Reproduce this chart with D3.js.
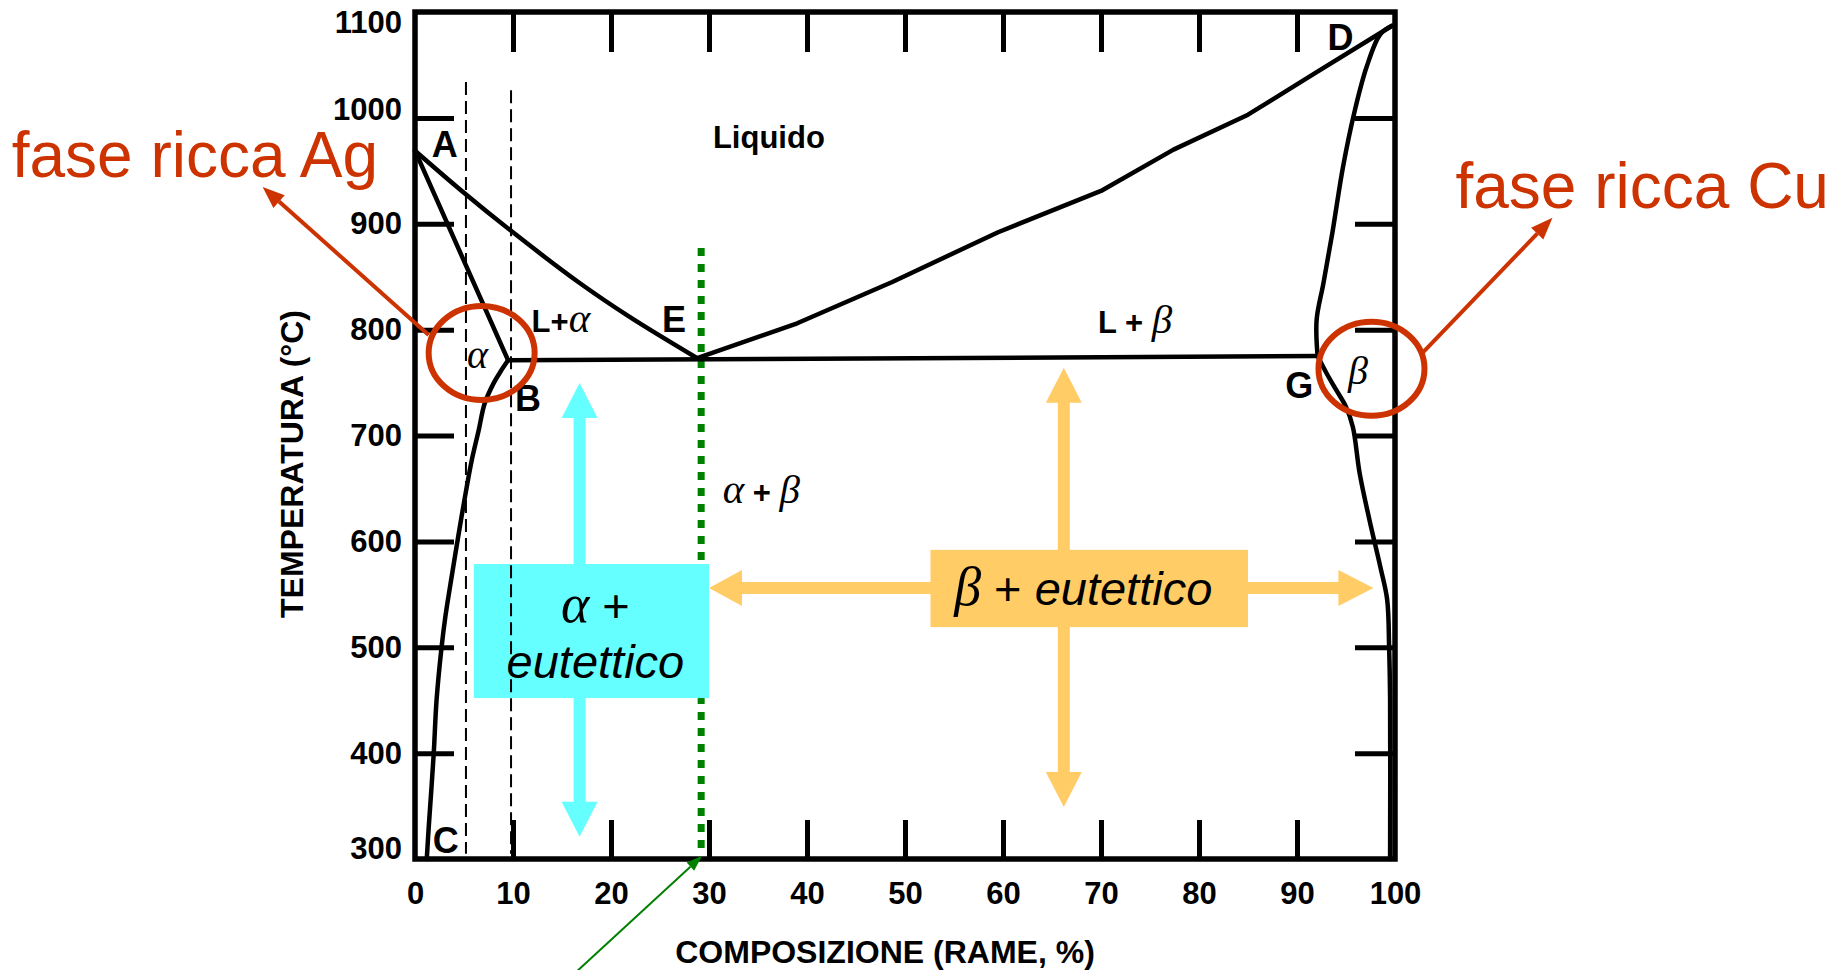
<!DOCTYPE html>
<html>
<head>
<meta charset="utf-8">
<script src="https://cdn.jsdelivr.net/npm/d3@7"></script>
<style>
  html, body { margin: 0; padding: 0; background: #fff; }
  svg { display: block; }
</style>
</head>
<body>
<svg id="chart" width="1841" height="970"></svg>
<script>
// ---- Ag–Cu phase diagram: composition (% Cu) vs temperature (°C) ----
const compTicks = [0, 10, 20, 30, 40, 50, 60, 70, 80, 90, 100];
const tempTicks = [300, 400, 500, 600, 700, 800, 900, 1000, 1100];

// phase boundaries as [composition, temperature]
const liquidusAg = [[0, 969], [4.9, 930], [9.7, 894], [16.8, 844], [21.9, 812], [28.8, 773]];
const solidusAg  = [[0, 969], [9.5, 771]];
const solvusAg   = [[9.5, 771], [8.7, 760], [8.0, 749], [7.1, 730], [6.5, 705], [5.8, 677], [5.1, 642],
                    [4.4, 604], [3.8, 570], [3.1, 529], [2.7, 499], [2.2, 450], [1.9, 398], [1.4, 330], [1.2, 300]];
const eutectic   = [[9.5, 771], [92.1, 775]];
const liquidusCu = [[28.8, 773], [39, 806], [48.7, 845], [59.5, 892], [70, 931], [77.4, 970], [85, 1003],
                    [91.8, 1042], [99.7, 1087]];
const solidusCu  = [[99.7, 1087], [98.5, 1079], [97.1, 1048], [95.9, 1007], [94.7, 954], [93.6, 891],
                    [92.7, 844], [92.0, 809], [92.1, 775]];
const solvusCu   = [[92.1, 775], [93.0, 759], [94.0, 743], [95.0, 727], [95.7, 708], [96.4, 664], [97.4, 620],
                    [98.5, 576], [99.2, 545], [99.4, 500], [99.5, 450], [99.5, 300]];

// reference verticals: [composition, lowest T, highest T]
const guideLines   = [[5.2, 305, 1034], [9.8, 305, 1026]];
const eutecticComp = [29.2, 310, 877];

// point names and region names, anchored at [composition, temperature]
const pointNames  = ['A', 'B', 'C', 'D', 'E', 'G'];
const pointAnchor = [[1.7, 963], [10.2, 723], [1.8, 306], [93.1, 1064], [25.2, 798], [88.8, 735]];

// microstructure boxes: [c0, c1, T0, T1] and arrow tips
const alphaBox = [6.0, 30.0, 452, 578.6];
const alphaArrowComp = 16.8, alphaArrowTips = [749.6, 321];
const betaBox  = [52.6, 85.0, 519, 592];
const betaArrowComp = 66.2, betaArrowTips = [764, 349];
const betaSideTemp = 556, betaSideTips = [30.0, 97.8];

// highlighted single-phase zones (centre in data units)
const alphaZone = [6.8, 778];
const betaZone  = [97.6, 763];

// ---- scales ----
const x = d3.scaleLinear().domain([0, 100]).range([415, 1395]);
const y = d3.scaleLinear().domain([300, 1100]).range([859, 12]);

const SANS = '"Liberation Sans", Arial, Helvetica, sans-serif';
const SERIF = '"Liberation Serif", "Times New Roman", serif';
const RED = '#cc3300', CYAN = '#66ffff', ORANGE = '#ffcc66', GREEN = '#008000';

const svg = d3.select('#chart').attr('font-family', SANS);

function blockArrow(x1, y1, x2, y2, w, hl, hw) {
  const dx = x2 - x1, dy = y2 - y1, L = Math.hypot(dx, dy);
  const ux = dx / L, uy = dy / L, px = -uy, py = ux;
  const bx = x2 - ux * hl, by = y2 - uy * hl;
  const pts = [
    [x1 + px * w / 2, y1 + py * w / 2], [bx + px * w / 2, by + py * w / 2],
    [bx + px * hw / 2, by + py * hw / 2], [x2, y2],
    [bx - px * hw / 2, by - py * hw / 2], [bx - px * w / 2, by - py * w / 2],
    [x1 - px * w / 2, y1 - py * w / 2]
  ];
  return 'M' + pts.map(p => p[0].toFixed(1) + ',' + p[1].toFixed(1)).join('L') + 'Z';
}

// ---- eutectic composition marker (green dotted) ----
svg.append('line')
  .attr('x1', x(eutecticComp[0])).attr('x2', x(eutecticComp[0]))
  .attr('y1', y(eutecticComp[2])).attr('y2', y(eutecticComp[1]))
  .attr('stroke', GREEN).attr('stroke-width', 7).attr('stroke-dasharray', '8,8');

// ---- alpha + eutectic box with its arrows ----
const aBox = { x0: x(alphaBox[0]), x1: x(alphaBox[1]), y0: y(alphaBox[3]), y1: y(alphaBox[2]) };
svg.append('path').attr('fill', CYAN)
  .attr('d', blockArrow(x(alphaArrowComp), aBox.y0 + 1, x(alphaArrowComp), y(alphaArrowTips[0]), 12, 35, 36));
svg.append('path').attr('fill', CYAN)
  .attr('d', blockArrow(x(alphaArrowComp), aBox.y1 - 1, x(alphaArrowComp), y(alphaArrowTips[1]), 12, 35, 36));
svg.append('rect').attr('fill', CYAN)
  .attr('x', aBox.x0).attr('y', aBox.y0).attr('width', aBox.x1 - aBox.x0).attr('height', aBox.y1 - aBox.y0);

const aText1 = svg.append('text').attr('x', (aBox.x0 + aBox.x1) / 2 + 4).attr('y', aBox.y0 + 58)
  .attr('text-anchor', 'middle').attr('font-size', 47);
aText1.append('tspan').attr('font-family', SERIF).attr('font-style', 'italic').attr('font-size', 54).text('α');
aText1.append('tspan').text(' +');
svg.append('text').attr('x', (aBox.x0 + aBox.x1) / 2 + 4).attr('y', aBox.y0 + 114)
  .attr('text-anchor', 'middle').attr('font-size', 47).attr('font-style', 'italic').text('eutettico');

// ---- dashed reference compositions ----
svg.selectAll('line.guide').data(guideLines).join('line').attr('class', 'guide')
  .attr('x1', d => x(d[0])).attr('x2', d => x(d[0]))
  .attr('y1', d => y(d[2])).attr('y2', d => y(d[1]))
  .attr('stroke', '#000').attr('stroke-width', 2).attr('stroke-dasharray', '13,6');

// ---- phase boundaries ----
const smooth = d3.line().x(d => x(d[0])).y(d => y(d[1])).curve(d3.curveCatmullRom.alpha(0.5));
const straight = d3.line().x(d => x(d[0])).y(d => y(d[1]));
[[liquidusAg, smooth], [solidusAg, straight], [solvusAg, smooth], [eutectic, straight],
 [liquidusCu, straight], [solidusCu, smooth], [solvusCu, smooth]].forEach(([data, gen]) => {
  svg.append('path').datum(data).attr('d', gen)
    .attr('fill', 'none').attr('stroke', '#000').attr('stroke-width', 4.5)
    .attr('stroke-linejoin', 'round').attr('stroke-linecap', 'round');
});

// ---- frame and inner tick marks ----
svg.append('rect').attr('x', x(0)).attr('y', y(1100))
  .attr('width', x(100) - x(0)).attr('height', y(300) - y(1100))
  .attr('fill', 'none').attr('stroke', '#000').attr('stroke-width', 5.5);

const innerComp = compTicks.filter(d => d > 0 && d < 100);
const innerTemp = tempTicks.filter(d => d > 300 && d < 1100);
function tickMarks(axis, tx, ty) {
  const g = svg.append('g').attr('transform', `translate(${tx},${ty})`).call(axis);
  g.select('.domain').remove();
  g.selectAll('.tick line').attr('stroke', '#000').attr('stroke-width', 5);
  g.selectAll('.tick text').remove();
}
tickMarks(d3.axisBottom(x).tickValues(innerComp).tickSize(-39), 0, y(300));
tickMarks(d3.axisTop(x).tickValues(innerComp).tickSize(-40), 0, y(1100));
tickMarks(d3.axisLeft(y).tickValues(innerTemp).tickSize(-39), x(0), 0);
tickMarks(d3.axisRight(y).tickValues(innerTemp).tickSize(-40), x(100), 0);

// ---- tick labels ----
const xLab = svg.append('g').attr('transform', `translate(0,${y(300)})`)
  .call(d3.axisBottom(x).tickValues(compTicks).tickFormat(d3.format('d')).tickSize(0).tickPadding(23));
xLab.select('.domain').remove();
xLab.attr('font-family', SANS).attr('font-size', 31).attr('font-weight', 'bold');
xLab.selectAll('text').attr('fill', '#000');

const yLab = svg.append('g').attr('transform', `translate(${x(0)},0)`)
  .call(d3.axisLeft(y).tickValues(tempTicks).tickFormat(d3.format('d')).tickSize(0).tickPadding(13));
yLab.select('.domain').remove();
yLab.attr('font-family', SANS).attr('font-size', 31).attr('font-weight', 'bold');
yLab.selectAll('text').attr('fill', '#000');
// keep the end labels inside the frame's height
yLab.selectAll('.tick').filter(d => d === 1100).select('text').attr('y', 11);
yLab.selectAll('.tick').filter(d => d === 1000).select('text').attr('y', -8);
yLab.selectAll('.tick').filter(d => d === 300).select('text').attr('y', -10);

// ---- axis titles ----
svg.append('text').attr('x', 885).attr('y', 963).attr('text-anchor', 'middle')
  .attr('font-size', 32).attr('font-weight', 'bold').text('COMPOSIZIONE (RAME, %)');
svg.append('text').attr('transform', 'translate(303,464) rotate(-90)').attr('text-anchor', 'middle')
  .attr('font-size', 32).attr('font-weight', 'bold').text('TEMPERATURA (°C)');

// ---- beta + eutectic box with its arrows ----
const bBox = { x0: x(betaBox[0]), x1: x(betaBox[1]), y0: y(betaBox[3]), y1: y(betaBox[2]) };
svg.append('path').attr('fill', ORANGE)
  .attr('d', blockArrow(x(betaArrowComp), bBox.y0 + 1, x(betaArrowComp), y(betaArrowTips[0]), 12, 35, 36));
svg.append('path').attr('fill', ORANGE)
  .attr('d', blockArrow(x(betaArrowComp), bBox.y1 - 1, x(betaArrowComp), y(betaArrowTips[1]), 12, 35, 36));
svg.append('path').attr('fill', ORANGE)
  .attr('d', blockArrow(bBox.x0 + 1, y(betaSideTemp), x(betaSideTips[0]), y(betaSideTemp), 12, 33, 36));
svg.append('path').attr('fill', ORANGE)
  .attr('d', blockArrow(bBox.x1 - 1, y(betaSideTemp), x(betaSideTips[1]), y(betaSideTemp), 12, 35, 36));
svg.append('rect').attr('fill', ORANGE)
  .attr('x', bBox.x0).attr('y', bBox.y0).attr('width', bBox.x1 - bBox.x0).attr('height', bBox.y1 - bBox.y0);
const bText = svg.append('text').attr('x', (bBox.x0 + bBox.x1) / 2 - 6).attr('y', bBox.y0 + 55)
  .attr('text-anchor', 'middle').attr('font-size', 47);
bText.append('tspan').attr('font-family', SERIF).attr('font-style', 'italic').attr('font-size', 54).text('β');
bText.append('tspan').text(' + ');
bText.append('tspan').attr('font-style', 'italic').text('eutettico');

// ---- point names ----
svg.selectAll('text.pt').data(pointNames).join('text').attr('class', 'pt')
  .attr('x', (d, i) => x(pointAnchor[i][0])).attr('y', (d, i) => y(pointAnchor[i][1]))
  .attr('font-size', 36).attr('font-weight', 'bold').text(d => d);

// ---- region names ----
svg.append('text').attr('x', x(30.4)).attr('y', y(971.5))
  .attr('font-size', 31).attr('font-weight', 'bold').text('Liquido');

function greek(t, size) {
  return t.append('tspan').attr('font-family', SERIF).attr('font-style', 'italic')
    .attr('font-weight', 'normal').attr('font-size', size);
}
const la = svg.append('text').attr('x', x(11.9)).attr('y', y(798)).attr('font-size', 31).attr('font-weight', 'bold');
la.append('tspan').text('L+');
greek(la, 41).text('α');

const lb = svg.append('text').attr('x', x(69.7)).attr('y', y(797)).attr('font-size', 31).attr('font-weight', 'bold');
lb.append('tspan').text('L + ');
greek(lb, 41).text('β');

const ab = svg.append('text').attr('x', x(31.4)).attr('y', y(636)).attr('font-size', 31).attr('font-weight', 'bold');
greek(ab, 41).text('α');
ab.append('tspan').text(' + ');
greek(ab, 41).text('β');

greek(svg.append('text').attr('x', x(5.3)).attr('y', y(764)), 40).text('α');
greek(svg.append('text').attr('x', x(95.2)).attr('y', y(749)), 40).text('β');

// ---- composition-of-interest pointer (thin green arrow) ----
{
  const tx = x(eutecticComp[0]) + 1, ty = y(303);
  const sx = tx - 128, sy = ty + 118;
  const ang = Math.atan2(ty - sy, tx - sx), hl = 16, hw = 11;
  const bx = tx - Math.cos(ang) * hl, by = ty - Math.sin(ang) * hl;
  svg.append('line').attr('x1', sx).attr('y1', sy).attr('x2', bx).attr('y2', by)
    .attr('stroke', GREEN).attr('stroke-width', 2);
  svg.append('path').attr('fill', GREEN).attr('d',
    `M${tx},${ty}L${bx - Math.sin(ang) * hw / 2},${by + Math.cos(ang) * hw / 2}` +
    `L${bx + Math.sin(ang) * hw / 2},${by - Math.cos(ang) * hw / 2}Z`);
}

// ---- highlighted single-phase zones with callouts ----
function callout(zone, start, tip, label, lx, ly) {
  const cx = x(zone[0]), cy = y(zone[1]);
  svg.append('ellipse').attr('cx', cx).attr('cy', cy).attr('rx', 53).attr('ry', 47)
    .attr('fill', 'none').attr('stroke', RED).attr('stroke-width', 6);
  const sx = cx + start[0], sy = cy + start[1], tx = cx + tip[0], ty = cy + tip[1];
  const ang = Math.atan2(ty - sy, tx - sx), hl = 22, hw = 17;
  const bx = tx - Math.cos(ang) * hl, by = ty - Math.sin(ang) * hl;
  svg.append('line').attr('x1', sx).attr('y1', sy).attr('x2', bx).attr('y2', by)
    .attr('stroke', RED).attr('stroke-width', 4);
  svg.append('path').attr('fill', RED).attr('d',
    `M${tx},${ty}L${bx - Math.sin(ang) * hw / 2},${by + Math.cos(ang) * hw / 2}` +
    `L${bx + Math.sin(ang) * hw / 2},${by - Math.cos(ang) * hw / 2}Z`);
  svg.append('text').attr('x', cx + lx).attr('y', cy + ly)
    .attr('font-size', 64).attr('fill', RED).text(label);
}
callout(alphaZone, [-53, -18], [-219, -166], 'fase ricca Ag', -470, -176);
callout(betaZone, [51, -16], [181, -151], 'fase ricca Cu', 84, -161);
</script>
</body>
</html>
